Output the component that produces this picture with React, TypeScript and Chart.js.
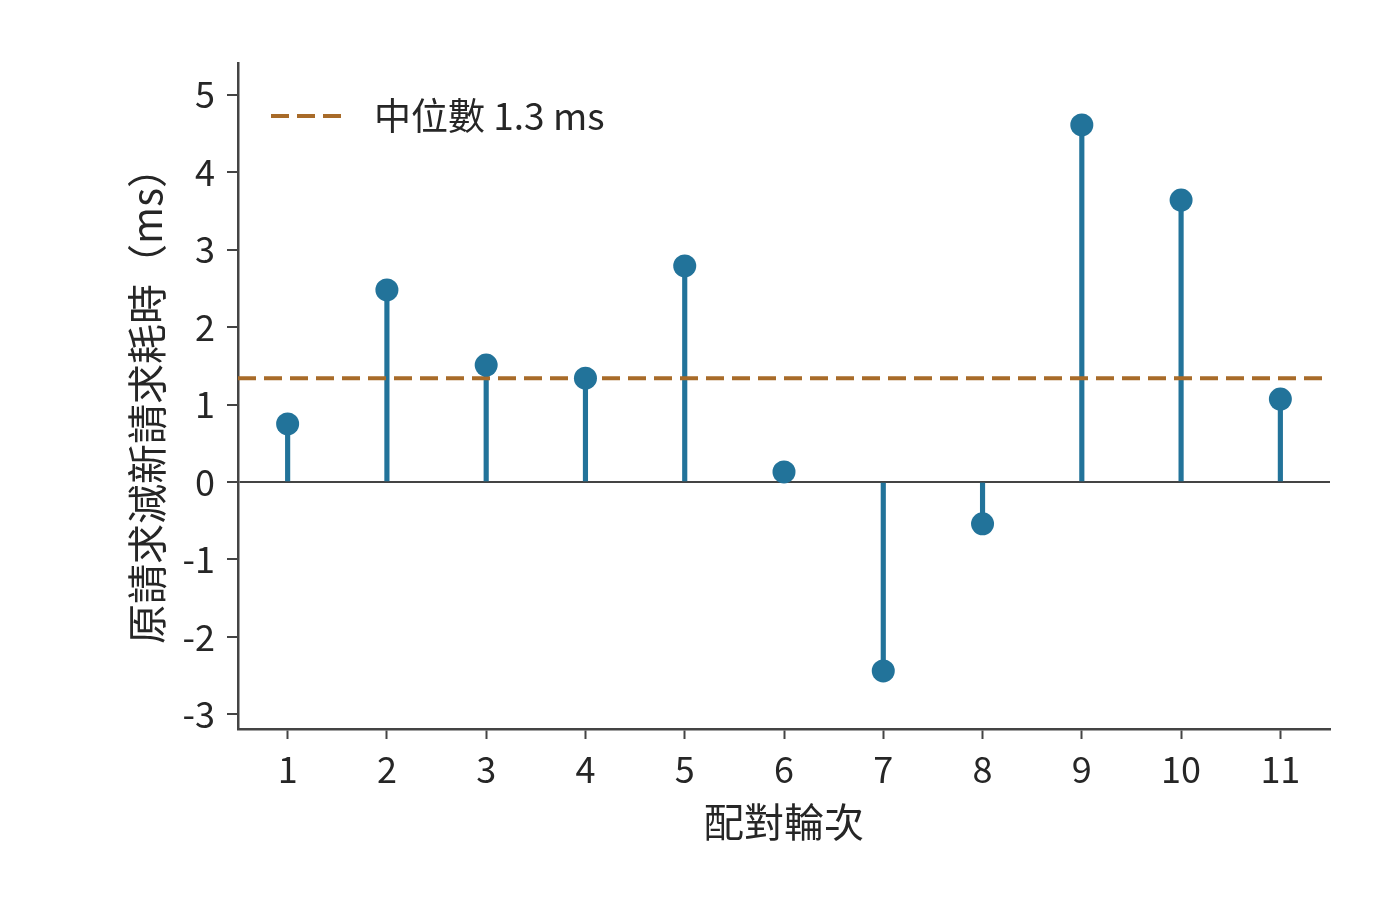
import { useEffect, useRef } from "react";
import { Chart, registerables } from "chart.js";

Chart.register(...registerables);

// paired rounds and (old - new) request time, ms
const rounds = [1, 2, 3, 4, 5, 6, 7, 8, 9, 10, 11];
const deltas = [0.75, 2.48, 1.51, 1.34, 2.79, 0.13, -2.44, -0.54, 4.61, 3.64, 1.07];
const medianValue = 1.34;
const medianLabel = "中位數 1.3 ms";
const yTicks = [-3, -2, -1, 0, 1, 2, 3, 4, 5];

const FONT = "'Noto Sans CJK TC', 'Noto Sans', sans-serif";
const BLUE = "#22739a";
const BROWN = "#a86b29";
const AXIS = "#444444";
const TEXT = "#262626";

// legend drawn inside the plot, top-left
const insideLegend = {
  id: "insideLegend",
  afterDraw(chart: any) {
    const { ctx, chartArea } = chart;
    const x0 = chartArea.left + 33;
    const y0 = chartArea.top + 53;
    ctx.save();
    ctx.strokeStyle = BROWN;
    ctx.lineWidth = 4;
    ctx.setLineDash([18, 8]);
    ctx.beginPath();
    ctx.moveTo(x0, y0);
    ctx.lineTo(x0 + 75, y0);
    ctx.stroke();
    ctx.setLineDash([]);
    ctx.fillStyle = TEXT;
    ctx.font = `37px ${FONT}`;
    ctx.textBaseline = "middle";
    ctx.fillText(medianLabel, x0 + 103, y0);
    ctx.restore();
  },
};

const StemChart = () => {
  const chartRef = useRef<HTMLCanvasElement>(null);

  useEffect(() => {
    const ctx = chartRef.current!.getContext("2d")!;
    const myChart = new Chart(ctx, {
      type: "bar",
      data: {
        datasets: [
          {
            type: "scatter",
            label: "points",
            data: rounds.map((r, i) => ({ x: r, y: deltas[i] })),
            backgroundColor: BLUE,
            borderWidth: 0,
            pointRadius: 11.5,
            order: 0,
          } as any,
          {
            type: "line",
            label: medianLabel,
            data: [
              { x: 0.5, y: medianValue },
              { x: 11.5, y: medianValue },
            ],
            borderColor: BROWN,
            borderWidth: 4,
            borderDash: [18, 8],
            pointRadius: 0,
            order: 1,
          },
          {
            type: "bar",
            label: "stems",
            data: rounds.map((r, i) => ({ x: r, y: [0, deltas[i]] })),
            backgroundColor: BLUE,
            barThickness: 4.5,
            order: 2,
          } as any,
        ],
      },
      options: {
        animation: false,
        responsive: false,
        devicePixelRatio: 1,
        layout: { padding: { left: 123, right: 70, top: 63, bottom: 66 } },
        plugins: {
          legend: { display: false },
          tooltip: { enabled: false },
        },
        scales: {
          x: {
            type: "linear",
            min: 0.5,
            max: 11.5,
            offset: false,
            afterBuildTicks: (scale: any) => {
              scale.ticks = rounds.map((v) => ({ value: v }));
            },
            afterFit: (scale: any) => {
              scale.height = 117;
            },
            border: { color: AXIS, width: 2.5 },
            grid: {
              offset: false,
              drawOnChartArea: false,
              drawTicks: true,
              tickLength: 10,
              tickColor: AXIS,
              tickWidth: 2,
            },
            ticks: {
              color: TEXT,
              font: { family: FONT, size: 36 },
              padding: 9,
              maxRotation: 0,
              autoSkip: false,
            },
            title: {
              display: true,
              text: "配對輪次",
              color: TEXT,
              font: { family: FONT, size: 40 },
              padding: 0,
            },
          },
          y: {
            type: "linear",
            min: -3.19,
            max: 5.41,
            afterBuildTicks: (scale: any) => {
              scale.ticks = yTicks.map((v) => ({ value: v }));
            },
            afterFit: (scale: any) => {
              scale.width = 115;
            },
            border: { color: AXIS, width: 2.5 },
            grid: {
              drawOnChartArea: true,
              color: (c: any) => (c.tick && c.tick.value === 0 ? AXIS : "rgba(0,0,0,0)"),
              lineWidth: 2,
              drawTicks: true,
              tickLength: 11,
              tickColor: AXIS,
              tickWidth: 2,
            },
            ticks: {
              color: TEXT,
              font: { family: FONT, size: 36 },
              padding: 12,
            },
            title: {
              display: true,
              text: "原請求減新請求耗時（ms）",
              color: TEXT,
              font: { family: FONT, size: 40 },
              padding: 0,
            },
          },
        },
      },
      plugins: [insideLegend],
    });

    return () => {
      myChart.destroy();
    };
  }, []);

  return <canvas ref={chartRef} width={1400} height={912} />;
};

export default function App() {
  return (
    <div style={{ position: "absolute", left: 0, top: 0, width: 1400, height: 912, background: "#fff" }}>
      <StemChart />
    </div>
  );
}
